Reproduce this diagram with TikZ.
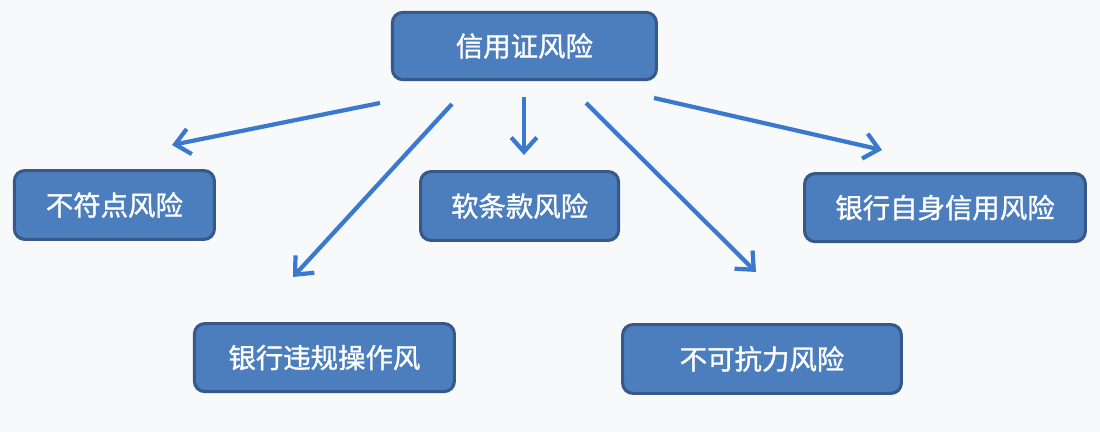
\documentclass[tikz,border=0pt]{standalone}
\usepackage{fontspec}
\setmainfont{Noto Sans CJK SC}
\newfontfamily\boxfont{Noto Sans CJK SC}[FakeBold=1.2]
\usepackage{tikz}
\usetikzlibrary{arrows.meta,positioning}
\definecolor{boxfill}{HTML}{4C7EBD}
\definecolor{boxline}{HTML}{36598A}
\definecolor{arrowblue}{HTML}{3B78CF}
\definecolor{paper}{HTML}{F8F9FB}
\tikzset{
  >={Straight Barb[length=3.6mm,width=6.4mm]},
  riskbox/.style={draw=boxline, fill=boxfill, line width=2.2pt, rounded corners=2.6mm,
    text=white, font=\boxfont\fontsize{19.5}{23}\selectfont, inner sep=0pt, align=center},
  conn/.style={->, draw=arrowblue, line width=3pt},
}
\begin{document}
\begin{tikzpicture}
  \fill[paper] (0,0) rectangle (27.5,10.8);
  \useasboundingbox (0,0) rectangle (27.5,10.8);
  % boxes
  \node[riskbox, minimum width=6.6cm, minimum height=1.68cm] (lc) at (13.11,9.65) {信用证风险};
  \node[riskbox, minimum width=5.0cm, minimum height=1.72cm] (mismatch) at (2.86,5.675) {不符点风险};
  \node[riskbox, minimum width=4.95cm, minimum height=1.72cm] (soft) at (12.99,5.65) {软条款风险};
  \node[riskbox, minimum width=7.02cm, minimum height=1.7cm] (bankself) at (23.625,5.61) {银行自身信用风险};
  \node[riskbox, minimum width=6.5cm, minimum height=1.7cm] (violation) at (8.11,1.86) {银行违规操作风};
  \node[riskbox, minimum width=6.97cm, minimum height=1.72cm] (force) at (19.05,1.825) {不可抗力风险};
  % arrow ends
  \coordinate (a1) at (9.5,8.225);   \coordinate (b1) at (4.3,7.175);
  \coordinate (a2) at (11.3,8.2);    \coordinate (b2) at (7.325,3.875);
  \coordinate (a3) at (13.1,8.375);  \coordinate (b3) at (13.1,6.925);
  \coordinate (a4) at (14.65,8.225); \coordinate (b4) at (18.9,4.0);
  \coordinate (a5) at (16.35,8.35);  \coordinate (b5) at (22.05,7.05);
  \foreach \i in {1,...,5}
    \draw[conn] (a\i) -- (b\i);
\end{tikzpicture}
\end{document}
